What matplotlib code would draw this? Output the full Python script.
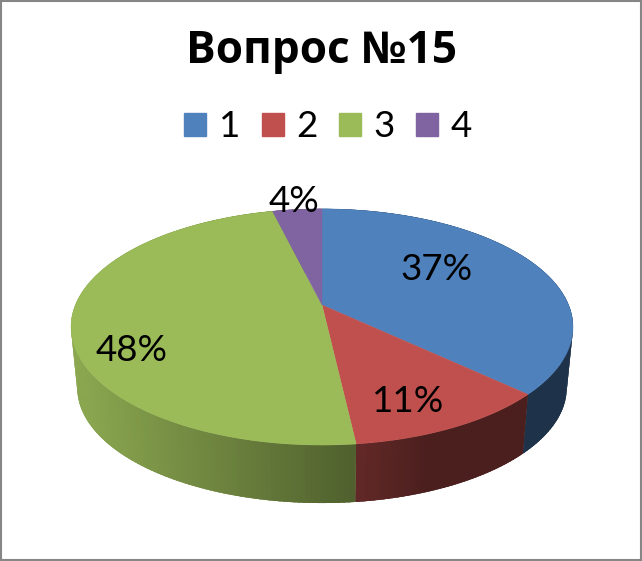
import numpy as np
import matplotlib
matplotlib.use("Agg")
import matplotlib.pyplot as plt
from matplotlib.collections import PolyCollection
from matplotlib.patches import Patch, Rectangle, Polygon

title = "Вопрос №15"
categories = ["1", "2", "3", "4"]
values = [37, 11.2, 48, 3.8]
colors = ["#4F81BD", "#C0504D", "#9BBB59", "#8064A2"]

FONT = ["Lato", "Open Sans", "DejaVu Sans"]
TITLE_FONT = ["Open Sans", "DejaVu Sans"]
W, H = 642, 561
X0, Y0 = 322.0, 305.0
A, B, K = 246.6, 114.0, 0.186
S, Y1 = 0.975, 366.5
label_px = [(436, 269), (408, 401), (132, 350), (294, 201)]

def project(theta, r=1.0, scale=1.0, yc=Y0):
    x = r * np.sin(theta)
    y = -r * np.cos(theta)
    w = 1 - K * y
    return X0 + scale * A * x / w, yc + scale * B * y / w

def shade(px):
    return np.interp(px, [75, 356, 430, 575], [0.90, 0.51, 0.385, 0.385])

fig = plt.figure(figsize=(W / 100, H / 100), dpi=100, facecolor="white")
ax = fig.add_axes([0, 0, 1, 1])
ax.set_xlim(0, W)
ax.set_ylim(H, 0)
ax.axis("off")

ax.add_patch(Rectangle((1, 1), W - 2, H - 2, fill=False, ec="#868686", lw=1.5, zorder=0))

fracs = np.cumsum([0] + values) / np.sum(values)
angles = 2 * np.pi * fracs

# sides: a solid underlay per slice, then shaded strips over it
for i, c in enumerate(colors):
    base = np.array(matplotlib.colors.to_rgb(c))
    th = np.linspace(angles[i], angles[i + 1], max(3, int((angles[i + 1] - angles[i]) * 60)))
    xa, ya = project(th)
    xb, yb = project(th[::-1], scale=S, yc=Y1)
    mean_shade = shade(xa.mean())
    ax.add_patch(Polygon(np.column_stack([np.r_[xa, xb], np.r_[ya, yb]]), closed=True,
                         fc=tuple(base * mean_shade), ec="none", zorder=1))
    polys, cols = [], []
    step = th[1] - th[0]
    for t0, t1 in zip(th[:-1], th[1:]):
        t2 = min(t1 + step * 0.6, angles[i + 1])
        xa2, ya2 = project(np.array([t0, t2]))
        xb2, yb2 = project(np.array([t2, t0]), scale=S, yc=Y1)
        polys.append(list(zip(xa2, ya2)) + list(zip(xb2, yb2)))
        cols.append(tuple(base * shade(xa2.mean())))
    ax.add_collection(PolyCollection(polys, facecolors=cols, edgecolors="none", zorder=1.5))

# top faces
for i, c in enumerate(colors):
    th = np.linspace(angles[i], angles[i + 1], 200)
    xs, ys = project(th)
    pts = np.vstack([[X0, Y0], np.column_stack([xs, ys])])
    ax.add_patch(Polygon(pts, closed=True, fc=c, ec=c, lw=0.3, zorder=2))

for v, (lx, ly) in zip(values, label_px):
    ax.text(lx, ly, f"{v:.0f}%", ha="center", va="center", fontsize=26.5, family=FONT, color="black", zorder=3)

ax.text(321, 51, title, ha="center", va="center", fontsize=31.8, fontweight="bold", family=TITLE_FONT, color="black")

handles = [Patch(fc=c, ec=c, label=l) for c, l in zip(colors, categories)]
fs = 26.5
px = fs * 100 / 72
leg = ax.legend(handles=handles, ncol=4, loc="center", bbox_to_anchor=(328 / W, 1 - 127 / H),
                frameon=False, prop={"family": FONT, "size": fs},
                handlelength=22 / px, handleheight=22 / px,
                handletextpad=0.34, columnspacing=0.58, borderpad=0, labelspacing=0)

fig.savefig("out.png", dpi=100, facecolor="white")
